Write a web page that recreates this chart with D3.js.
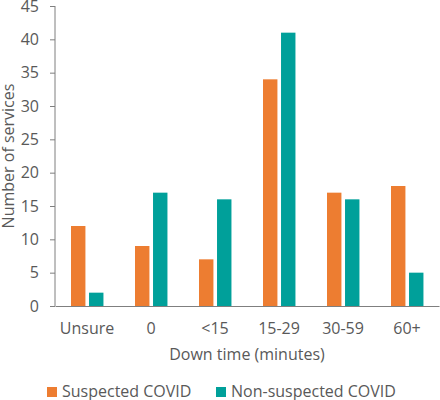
<!DOCTYPE html>
<html>
<head>
<meta charset="utf-8">
<script src="https://cdn.jsdelivr.net/npm/d3@7"></script>
<style>
  body { margin: 0; background: #fff; }
  svg text { font-family: "Open Sans", "Noto Sans", sans-serif; fill: #595959; }
  .axis path, .axis line { stroke: #7f7f7f; }
</style>
</head>
<body>
<svg id="chart" width="440" height="400"></svg>
<script>
// categorias y valores
var categories = ["Unsure", "0", "<15", "15-29", "30-59", "60+"];
var seriesNames = ["Suspected COVID", "Non-suspected COVID"];
var suspected = [12, 9, 7, 34, 17, 18];
var nonSuspected = [2, 17, 16, 41, 16, 5];
var yTicks = [0, 5, 10, 15, 20, 25, 30, 35, 40, 45];
var colors = ["#ED7D31", "#00A09A"];

var svg = d3.select("#chart");
var margin = {left: 55, right: 1, top: 6, bottom: 94};
var width = 440 - margin.left - margin.right,
    height = 400 - margin.top - margin.bottom;

var g = svg.append("g").attr("transform", "translate(" + margin.left + "," + margin.top + ")");

var x0 = d3.scaleBand().domain(categories).range([0, width]);
var x1 = d3.scaleBand().domain([0, 1])
  .range([x0.bandwidth() * 0.25, x0.bandwidth() * 0.757]).paddingInner(0.2);
var y = d3.scaleLinear().domain([0, 45]).range([height, 0]);

// y axis
var yAxis = g.append("g").attr("class", "axis")
  .call(d3.axisLeft(y).tickValues(yTicks).tickSize(5).tickPadding(11).tickSizeOuter(0));
yAxis.selectAll("text").style("font-size", "16px");
yAxis.select(".domain").attr("d", "M0," + y(45) + "V" + height);

// barras
var rows = categories.map(function(c, i){ return {cat: c, vals: [suspected[i], nonSuspected[i]]}; });
var grp = g.selectAll("g.grp").data(rows).enter().append("g")
  .attr("class", "grp")
  .attr("transform", function(d){ return "translate(" + x0(d.cat) + ",0)"; });
grp.selectAll("rect").data(function(d){ return d.vals; }).enter().append("rect")
  .attr("x", function(d, i){ return x1(i); })
  .attr("width", x1.bandwidth())
  .attr("y", function(d){ return y(d); })
  .attr("height", function(d){ return height - y(d); })
  .attr("fill", function(d, i){ return colors[i]; });

// x axis
var xAxis = g.append("g").attr("class", "axis")
  .attr("transform", "translate(0," + height + ")")
  .call(d3.axisBottom(x0).tickSize(0).tickPadding(17));
xAxis.selectAll("text").style("font-size", "16px");

// titulos
svg.append("text")
  .attr("transform", "translate(14," + (margin.top + height / 2) + ")rotate(-90)")
  .attr("text-anchor", "middle")
  .style("font-size", "16px")
  .text("Number of services");
svg.append("text")
  .attr("x", margin.left + width / 2).attr("y", 360)
  .attr("text-anchor", "middle")
  .style("font-size", "16px")
  .text("Down time (minutes)");

// leyenda
var legX = [47, 216];
var leg = svg.selectAll("g.leg").data(seriesNames).enter().append("g")
  .attr("class", "leg")
  .attr("transform", function(d, i){ return "translate(" + legX[i] + ",387)"; });
leg.append("rect").attr("width", 10).attr("height", 10)
  .attr("fill", function(d, i){ return colors[i]; });
leg.append("text").attr("x", 15).attr("y", 10)
  .style("font-size", "16px")
  .text(function(d){ return d; });
</script>
</body>
</html>
